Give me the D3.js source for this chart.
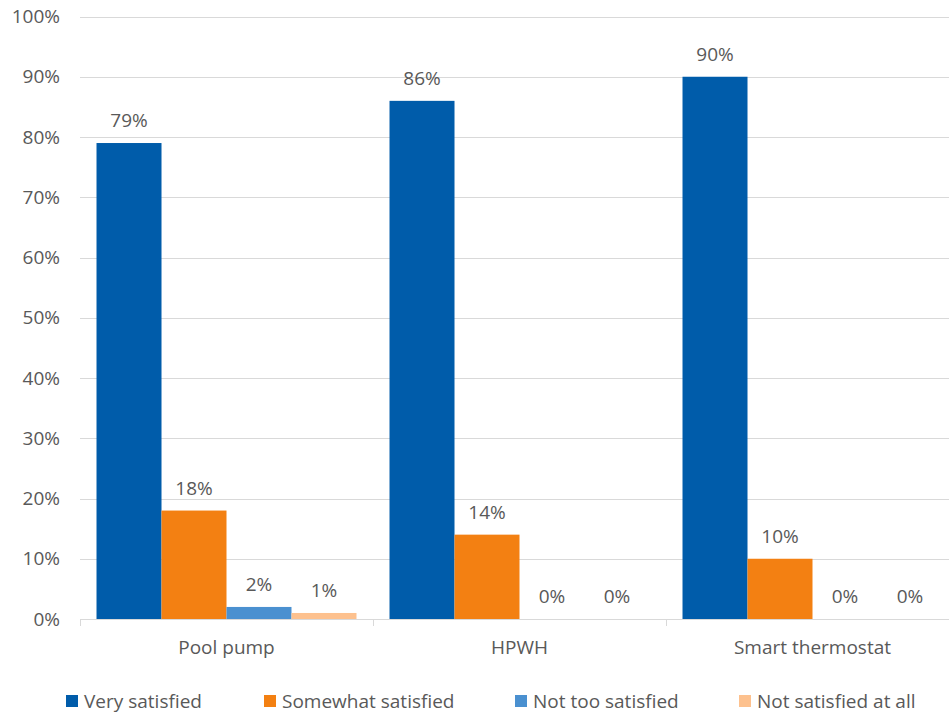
<!DOCTYPE html>
<html>
<head>
<meta charset="utf-8">
<script src="https://cdn.jsdelivr.net/npm/d3@7"></script>
<style>
  html, body { margin: 0; padding: 0; background: #fff; }
  svg { display: block; }
  text { font-family: "Open Sans", "Noto Sans", sans-serif; fill: #595959; }
</style>
</head>
<body>
<svg id="chart" width="949" height="715"></svg>
<script>
// Satisfaction by product
const categories = ["Pool pump", "HPWH", "Smart thermostat"];
const seriesNames = ["Very satisfied", "Somewhat satisfied", "Not too satisfied", "Not satisfied at all"];
const verySatisfied = [79, 86, 90];
const somewhatSatisfied = [18, 14, 10];
const notTooSatisfied = [2, 0, 0];
const notSatisfiedAtAll = [1, 0, 0];
const yTicks = [0, 10, 20, 30, 40, 50, 60, 70, 80, 90, 100];
const colors = ["#005CAA", "#F38012", "#4A90D0", "#FDC18E"];

const seriesValues = [verySatisfied, somewhatSatisfied, notTooSatisfied, notSatisfiedAtAll];

const svg = d3.select("#chart");
const plotLeft = 80, plotRight = 959, plotTop = 16.5, plotBottom = 619;
const fontSize = 19;

const x = d3.scaleBand().domain(categories).range([plotLeft, plotRight]).paddingInner(0).paddingOuter(0);
const xs = d3.scaleBand().domain(seriesNames).range([0, x.bandwidth()]).paddingInner(0).paddingOuter(0.254);
const y = d3.scaleLinear().domain([0, 100]).range([plotBottom, plotTop]);

// horizontal gridlines
svg.append("g").selectAll("line").data(yTicks.filter(d => d > 0)).join("line")
  .attr("x1", plotLeft).attr("x2", 949)
  .attr("y1", d => Math.round(y(d)) + 0.5).attr("y2", d => Math.round(y(d)) + 0.5)
  .attr("stroke", "#d9d9d9").attr("stroke-width", 1);

// y labels
svg.append("g").selectAll("text").data(yTicks).join("text")
  .attr("x", 60).attr("y", d => y(d)).attr("dy", "0.35em")
  .attr("text-anchor", "end").attr("font-size", fontSize)
  .text(d => d + "%");

// bars
const groups = svg.append("g").selectAll("g").data(categories).join("g")
  .attr("transform", d => `translate(${x(d)},0)`);

groups.selectAll("rect")
  .data((c, ci) => seriesNames.map((s, si) => ({ s, si, v: seriesValues[si][ci] })))
  .join("rect")
  .attr("x", d => xs(d.s)).attr("width", xs.bandwidth())
  .attr("y", d => y(d.v)).attr("height", d => y(0) - y(d.v))
  .attr("fill", d => colors[d.si]);

groups.selectAll("text.val")
  .data((c, ci) => seriesNames.map((s, si) => ({ s, si, v: seriesValues[si][ci] })))
  .join("text").attr("class", "val")
  .attr("x", d => xs(d.s) + xs.bandwidth() / 2)
  .attr("y", d => y(d.v) - 16)
  .attr("text-anchor", "middle").attr("font-size", fontSize)
  .text(d => d.v + "%");

// x axis line and category ticks
svg.append("line")
  .attr("x1", plotLeft).attr("x2", 949)
  .attr("y1", Math.round(y(0)) + 0.5).attr("y2", Math.round(y(0)) + 0.5)
  .attr("stroke", "#d9d9d9");

svg.append("g").selectAll("line").data(categories).join("line")
  .attr("x1", d => Math.round(x(d)) + 0.5).attr("x2", d => Math.round(x(d)) + 0.5)
  .attr("y1", y(0)).attr("y2", y(0) + 7)
  .attr("stroke", "#d9d9d9");

svg.append("g").selectAll("text").data(categories).join("text")
  .attr("x", d => x(d) + x.bandwidth() / 2)
  .attr("y", 654)
  .attr("text-anchor", "middle").attr("font-size", fontSize)
  .text(d => d);

// legend
const legendX = [66, 264, 515, 739];
const legend = svg.append("g").selectAll("g").data(seriesNames).join("g")
  .attr("transform", (d, i) => `translate(${legendX[i]},695)`);
legend.append("rect").attr("width", 12).attr("height", 12).attr("fill", (d, i) => colors[i]);
legend.append("text").attr("x", 18).attr("y", 6).attr("dy", "0.35em")
  .attr("font-size", fontSize).text(d => d);
</script>
</body>
</html>
